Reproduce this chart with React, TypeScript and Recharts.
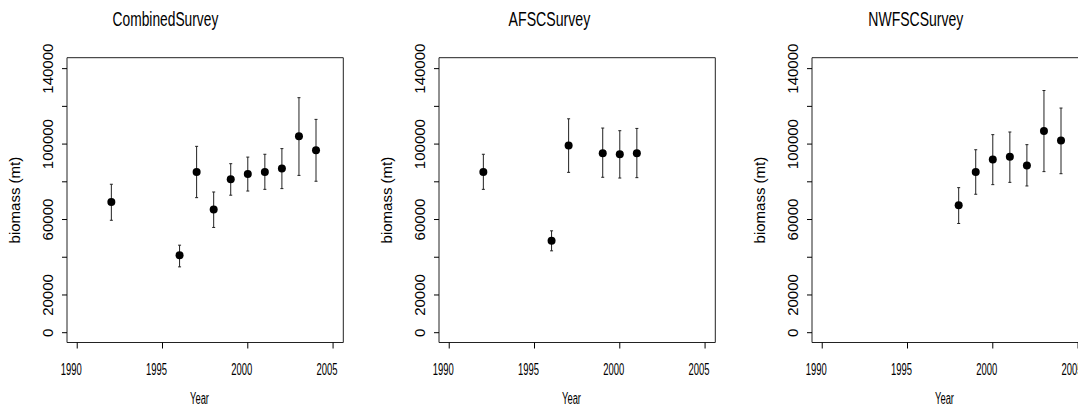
import { ScatterChart, Scatter, XAxis, YAxis, ErrorBar, ReferenceArea } from 'recharts';

const yearTicks = [1990, 1995, 2000, 2005];
const biomassTicks = [0, 20000, 40000, 60000, 80000, 100000, 120000, 140000];
const biomassLabels = [0, 20000, 60000, 100000, 140000];

const combinedYears = [1992, 1996, 1997, 1998, 1999, 2000, 2001, 2002, 2003, 2004];
const combinedBiomass = [69300, 41000, 85200, 65300, 81300, 84100, 85200, 87100, 104200, 96700];
const combinedLower = [59600, 34900, 71600, 55800, 72900, 75100, 76000, 76400, 83400, 80300];
const combinedUpper = [78700, 46400, 98800, 74600, 89600, 93100, 94600, 97600, 124600, 113100];

const afscYears = [1992, 1996, 1997, 1999, 2000, 2001];
const afscBiomass = [85200, 48700, 99200, 95200, 94600, 95200];
const afscLower = [76000, 43400, 85000, 82400, 82000, 82200];
const afscUpper = [94600, 54000, 113400, 108500, 107100, 108300];

const nwfscYears = [1998, 1999, 2000, 2001, 2002, 2003, 2004];
const nwfscBiomass = [67600, 85200, 91800, 93300, 88700, 106900, 101900];
const nwfscLower = [57900, 73400, 78500, 79700, 77800, 85400, 84300];
const nwfscUpper = [76900, 97000, 105000, 106400, 99700, 128400, 119100];

const FONT = '"Liberation Sans", Arial, sans-serif';
const X_DOMAIN: [number, number] = [1989.4, 2005.6];
const Y_DOMAIN: [number, number] = [-5200, 145800];

// R squeezes these labels a lot, so force the width
const YearTick = (props: any) => {
  const { x, y, payload } = props;
  return (
    <text x={x + 4.4} y={y + 24.5} textAnchor="end" fontFamily={FONT} fontSize={16}
      textLength={21} lengthAdjust="spacingAndGlyphs" fill="#000">
      {payload.value}
    </text>
  );
};

const BiomassTick = (props: any) => {
  const { x, y, payload } = props;
  if (!biomassLabels.includes(payload.value)) return <g />;
  const tx = x - 7.3;
  return (
    <text x={tx} y={y} transform={`rotate(-90, ${tx}, ${y})`} textAnchor="middle"
      fontFamily={FONT} fontSize={15} fill="#000">
      {payload.value}
    </text>
  );
};

interface PanelProps {
  title: string;
  titleWidth: number;
  years: number[];
  biomass: number[];
  lower: number[];
  upper: number[];
  left: number;
}

const Panel = ({ title, titleWidth, years, biomass, lower, upper, left }: PanelProps) => {
  const data = years.map((year, i) => ({
    year,
    biomass: biomass[i],
    err: [biomass[i] - lower[i], upper[i] - biomass[i]],
  }));

  return (
    <div style={{ position: 'absolute', left, top: 0, width: 373, height: 409 }}>
      <svg width={373} height={40} style={{ position: 'absolute', left: 0, top: 0 }}>
        <text x={218.3} y={26} textAnchor="end" fontFamily={FONT} fontSize={20}
          textLength={titleWidth} lengthAdjust="spacingAndGlyphs" fill="#000">
          {title}
        </text>
      </svg>
      <ScatterChart width={373} height={409} margin={{ top: 57.7, right: 29.7, bottom: 26.5, left: 7 }}>
        <XAxis
          type="number"
          dataKey="year"
          domain={X_DOMAIN}
          allowDataOverflow
          ticks={yearTicks}
          axisLine={false}
          tickSize={6}
          tickLine={{ stroke: '#000' }}
          tick={<YearTick />}
          height={40}
          label={(p: any) => (
            <text x={p.viewBox.x + 142} y={p.viewBox.y + 61.5} textAnchor="end" fontFamily={FONT}
              fontSize={16} textLength={19} lengthAdjust="spacingAndGlyphs" fill="#000">
              Year
            </text>
          )}
        />
        <YAxis
          type="number"
          dataKey="biomass"
          domain={Y_DOMAIN}
          allowDataOverflow
          ticks={biomassTicks}
          axisLine={false}
          tickSize={5}
          tickLine={{ stroke: '#000' }}
          tick={<BiomassTick />}
          width={60}
          label={(p: any) => {
            const lx = p.viewBox.x + 13;
            const ly = p.viewBox.y + p.viewBox.height / 2;
            return (
              <text x={lx} y={ly} transform={`rotate(-90, ${lx}, ${ly})`} textAnchor="middle"
                fontFamily={FONT} fontSize={15} fill="#000">
                biomass (mt)
              </text>
            );
          }}
        />
        <ReferenceArea x1={X_DOMAIN[0]} x2={X_DOMAIN[1]} y1={Y_DOMAIN[0]} y2={Y_DOMAIN[1]}
          fill="none" fillOpacity={0} stroke="#222" strokeWidth={1} ifOverflow="visible" />
        <Scatter
          data={data}
          fill="#000"
          isAnimationActive={false}
          shape={(p: any) => <circle cx={p.cx} cy={p.cy} r={4} fill="#000" />}
        >
          <ErrorBar dataKey="err" direction="y" width={1.5} stroke="#222" strokeWidth={1} />
        </Scatter>
      </ScatterChart>
    </div>
  );
};

export default function App() {
  return (
    <div style={{ position: 'absolute', left: 0, top: 0, width: 1078, height: 409, overflow: 'hidden', background: '#fff' }}>
      <Panel title="CombinedSurvey" titleWidth={105.7} years={combinedYears} biomass={combinedBiomass}
        lower={combinedLower} upper={combinedUpper} left={0} />
      <Panel title="AFSCSurvey" titleWidth={81.7} years={afscYears} biomass={afscBiomass}
        lower={afscLower} upper={afscUpper} left={372.3} />
      <Panel title="NWFSCSurvey" titleWidth={95} years={nwfscYears} biomass={nwfscBiomass}
        lower={nwfscLower} upper={nwfscUpper} left={744.7} />
    </div>
  );
}
